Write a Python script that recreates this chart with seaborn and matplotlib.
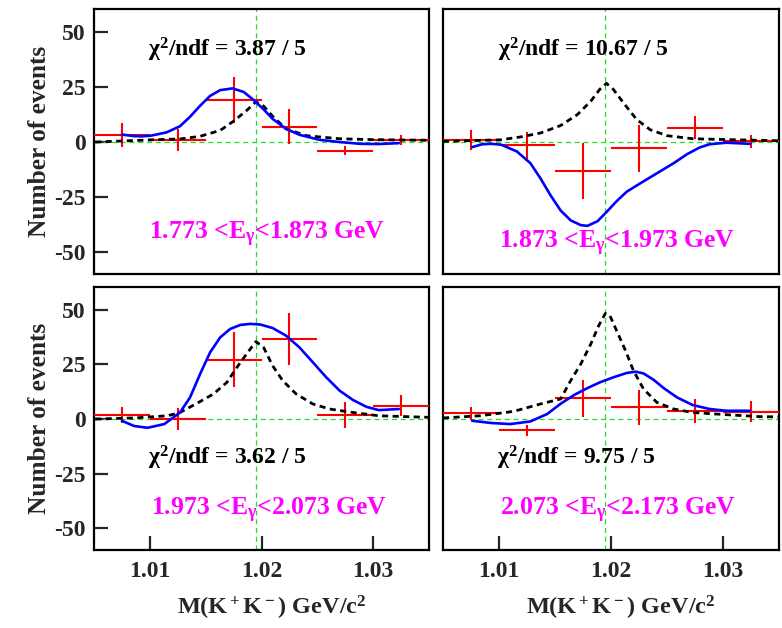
import numpy as np
import pandas as pd
import matplotlib
matplotlib.use("Agg")
import matplotlib.pyplot as plt
import seaborn as sns

sns.set_theme(style="white")
plt.rcParams['font.family'] = ['Liberation Serif', 'DejaVu Serif']
plt.rcParams['font.weight'] = 'bold'
plt.rcParams['mathtext.fontset'] = 'custom'
plt.rcParams['mathtext.rm'] = 'Liberation Serif:bold'
plt.rcParams['mathtext.it'] = 'Liberation Serif:bold'
plt.rcParams['mathtext.bf'] = 'Liberation Serif:bold'

# ---------------- data ----------------
bin_centers = [1.0075, 1.0125, 1.0175, 1.0225, 1.0275, 1.0325]
bin_halfwidth = 0.0025

p1_y = [3.2, 0.8, 19.0, 6.9, -4.0, 0.9]
p1_err = [5.5, 5.0, 10.5, 8.0, 2.0, 2.3]
p2_y = [0.8, -1.5, -13.0, -2.9, 6.6, 0.3]
p2_err = [4.5, 6.0, 12.7, 10.5, 5.2, 2.9]
p3_y = [1.8, 0.0, 27.2, 36.6, 1.8, 6.1]
p3_err = [3.8, 5.0, 12.7, 12.0, 5.8, 4.9]
p4_y = [2.6, -5.2, 9.6, 5.3, 3.5, 3.4]
p4_err = [3.0, 2.6, 8.5, 8.2, 5.5, 4.9]

# fitted total curve (blue)
p1_fit_x = [1.0075, 1.0086, 1.0093, 1.0101, 1.0115, 1.0127, 1.0136, 1.0145, 1.0154,
            1.0163, 1.0174, 1.0184, 1.0193, 1.0202, 1.0210, 1.0222, 1.0234, 1.0252,
            1.0270, 1.0288, 1.0305, 1.0323]
p1_fit_y = [3.4, 2.7, 2.6, 2.9, 4.4, 7.2, 11.5, 16.5, 21.0,
            23.6, 24.4, 22.8, 19.1, 14.8, 10.5, 6.0, 3.3, 1.0,
            0.0, -0.8, -0.9, -0.5]
p2_fit_x = [1.0076, 1.0085, 1.0093, 1.0102, 1.0116, 1.0128, 1.0137, 1.0146, 1.0155,
            1.0164, 1.0173, 1.0179, 1.0188, 1.0196, 1.0205, 1.0214, 1.0226, 1.0241,
            1.0256, 1.0268, 1.0279, 1.0288, 1.0303, 1.0324]
p2_fit_y = [-2.3, -1.0, -0.8, -1.2, -4.3, -9.6, -16.5, -24.2, -31.1,
            -35.6, -37.8, -38.1, -36.0, -31.8, -26.9, -22.6, -18.8, -14.2,
            -9.6, -5.5, -2.5, -1.0, -0.3, -0.8]
p3_fit_x = [1.0075, 1.0086, 1.0098, 1.0113, 1.0127, 1.0136, 1.0145, 1.0154, 1.0163,
            1.0172, 1.0181, 1.0190, 1.0199, 1.0210, 1.0222, 1.0234, 1.0246, 1.0258,
            1.0270, 1.0282, 1.0294, 1.0305, 1.0323]
p3_fit_y = [-0.8, -3.2, -4.0, -2.3, 3.0, 9.9, 20.6, 30.6, 37.4,
            41.3, 43.1, 43.6, 43.3, 41.7, 38.2, 32.8, 26.0, 19.1,
            13.0, 8.7, 5.6, 4.1, 4.6]
p4_fit_x = [1.0076, 1.0093, 1.0110, 1.0128, 1.0143, 1.0155, 1.0167, 1.0179, 1.0190,
            1.0202, 1.0214, 1.0222, 1.0229, 1.0238, 1.0247, 1.0259, 1.0273, 1.0288,
            1.0303, 1.0324]
p4_fit_y = [-0.8, -1.8, -2.3, -1.1, 2.3, 7.0, 11.0, 14.2, 16.8,
            19.1, 21.1, 21.7, 20.9, 18.0, 14.2, 9.9, 6.4, 4.6,
            3.8, 3.8]

# phi signal shape (black dashed)
p1_sig_x = [1.0051, 1.0101, 1.0127, 1.0145, 1.0163, 1.0175, 1.0187, 1.0195, 1.0202,
            1.0210, 1.0222, 1.0240, 1.0270, 1.0300, 1.0349]
p1_sig_y = [0.0, 1.0, 1.4, 2.6, 5.3, 9.5, 14.5, 18.3, 16.3,
            11.7, 6.0, 2.9, 1.5, 1.1, 0.8]
p2_sig_x = [1.0050, 1.0101, 1.0119, 1.0137, 1.0155, 1.0170, 1.0182, 1.0190, 1.0196,
            1.0202, 1.0211, 1.0223, 1.0235, 1.0250, 1.0273, 1.0306, 1.0350]
p2_sig_y = [0.3, 1.0, 2.3, 4.1, 7.5, 12.5, 18.6, 24.0, 26.7,
            24.0, 17.9, 10.2, 5.6, 2.9, 1.5, 1.1, 0.6]
p3_sig_x = [1.0051, 1.0086, 1.0116, 1.0127, 1.0145, 1.0157, 1.0169, 1.0178, 1.0187,
            1.0195, 1.0202, 1.0210, 1.0219, 1.0231, 1.0246, 1.0261, 1.0282, 1.0305,
            1.0349]
p3_sig_y = [0.0, 0.5, 1.5, 3.0, 8.0, 11.5, 16.8, 23.7, 30.1,
            35.5, 32.7, 24.4, 17.6, 11.5, 6.9, 4.6, 3.0, 1.5,
            0.8]
p4_sig_x = [1.0050, 1.0083, 1.0113, 1.0137, 1.0155, 1.0164, 1.0173, 1.0182, 1.0189,
            1.0195, 1.0199, 1.0205, 1.0213, 1.0220, 1.0229, 1.0241, 1.0256, 1.0273,
            1.0303, 1.0333, 1.0350]
p4_sig_y = [0.5, 1.5, 3.5, 6.9, 9.2, 17.6, 25.2, 34.4, 42.8,
            48.4, 47.4, 40.5, 31.3, 22.2, 13.8, 7.6, 4.6, 3.0,
            2.0, 1.1, 1.0]

chi2_labels = ["3.87 / 5", "10.67 / 5", "3.62 / 5", "9.75 / 5"]
egamma_lo = ["1.773", "1.873", "1.973", "2.073"]
egamma_hi = ["1.873", "1.973", "2.073", "2.173"]
x_ticks = [1.01, 1.02, 1.03]
y_ticks = [-50, -25, 0, 25, 50]
phi_mass = 1.0195

panels = [
    (p1_y, p1_err, p1_fit_x, p1_fit_y, p1_sig_x, p1_sig_y),
    (p2_y, p2_err, p2_fit_x, p2_fit_y, p2_sig_x, p2_sig_y),
    (p3_y, p3_err, p3_fit_x, p3_fit_y, p3_sig_x, p3_sig_y),
    (p4_y, p4_err, p4_fit_x, p4_fit_y, p4_sig_x, p4_sig_y),
]

# ---------------- layout ----------------
W, H = 782, 628
fig = plt.figure(figsize=(W / 100, H / 100), dpi=100)
boxes = [
    (94, 9, 429, 274), (443, 9, 779, 274),
    (94, 287, 429, 550), (443, 287, 779, 550),
]
chi_pos = [(1.0098, 42), (1.0099, 42), (1.0098, -17.6), (1.0098, -17.6)]
mag_pos = [(1.0099, -42), (1.0100, -46), (1.0101, -42), (1.0101, -42)]

for i, (box, pdata) in enumerate(zip(boxes, panels)):
    l, t, r, b = box
    ax = fig.add_axes([l / W, 1 - b / H, (r - l) / W, (b - t) / H])
    yv, ye, fx, fy, sx, sy = pdata
    ax.set_xlim(1.005, 1.035)
    ax.set_ylim(-60, 60.5)
    ax.axhline(0, color="#22dd22", lw=0.9, ls=(0, (4, 3)), zorder=1)
    ax.axvline(phi_mass, color="#22dd22", lw=0.9, ls=(0, (4, 3)), zorder=1)
    ax.errorbar(bin_centers, yv, yerr=ye, xerr=bin_halfwidth, fmt="none",
                ecolor="#ff0000", elinewidth=1.5, capsize=0, zorder=3)
    sns.lineplot(x=sx, y=sy, ax=ax, color="black", lw=2.0, sort=False,
                 linestyle=(0, (2.2, 1.6)), zorder=4)
    sns.lineplot(x=fx, y=fy, ax=ax, color="#0000ff", lw=1.9, sort=False, zorder=5)
    ax.text(chi_pos[i][0], chi_pos[i][1], "χ$^2$/ndf = " + chi2_labels[i],
            fontsize=17, fontweight="bold", color="black", va="center", ha="left")
    ax.text(mag_pos[i][0], mag_pos[i][1],
            egamma_lo[i] + r" <E$_\gamma$<" + egamma_hi[i] + " GeV",
            fontsize=18.5, fontweight="bold", color="#ff00ff", va="center", ha="left")
    for s in ax.spines.values():
        s.set_linewidth(1.6)
        s.set_color("black")
    ax.grid(False)
    ax.set_xlabel("")
    ax.set_ylabel("")
    left_col = i in (0, 2)
    bottom_row = i in (2, 3)
    if left_col:
        ax.set_yticks(y_ticks)
        ax.set_yticklabels([str(v) for v in y_ticks])
        ax.set_ylabel("Number of events", fontsize=18.3, fontweight="bold", labelpad=2)
    else:
        ax.set_yticks([])
    if bottom_row:
        ax.set_xticks(x_ticks)
        ax.set_xticklabels([f"{v:.2f}" for v in x_ticks])
        ax.set_xlabel("M(K$^+$K$^-$) GeV/c$^2$", fontsize=17.5, fontweight="bold", labelpad=8)
        ax.xaxis.set_label_coords(0.53, -0.165)
    else:
        ax.set_xticks([])
    ax.tick_params(axis="both", direction="in", length=10, width=1.6,
                   labelsize=17, pad=8, left=left_col, bottom=bottom_row)
    ax.tick_params(axis="y", pad=6)
    for lab in ax.get_xticklabels() + ax.get_yticklabels():
        lab.set_fontweight("bold")

fig.savefig("out.png", dpi=100)
